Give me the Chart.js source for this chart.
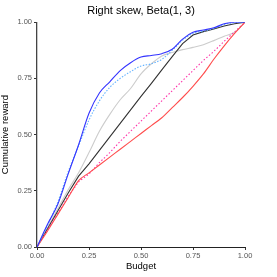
<!DOCTYPE html>
<html>
<head>
<meta charset="utf-8">
<script src="https://cdn.jsdelivr.net/npm/chart.js@4"></script>
<style>
  html, body { margin: 0; padding: 0; background: #fff; }
  #wrap { width: 277px; height: 277px; }
</style>
</head>
<body>
<div id="wrap"><canvas id="mycanvas" width="277" height="277"></canvas></div>
<script>
// Budget grid (x values)
var budget = [0, 0.05, 0.10, 0.15, 0.20, 0.25, 0.30, 0.35, 0.40, 0.45, 0.50,
              0.55, 0.60, 0.65, 0.70, 0.75, 0.80, 0.85, 0.90, 0.95, 1.00];
// Cumulative reward per curve
var blueVals  = [0, 0.10, 0.19, 0.325, 0.455, 0.595, 0.685, 0.735, 0.785, 0.82, 0.845,
                 0.852, 0.86, 0.88, 0.925, 0.955, 0.965, 0.975, 0.993, 1.0, 1.0];
var skyVals   = [0, 0.095, 0.20, 0.335, 0.45, 0.565, 0.65, 0.71, 0.75, 0.78, 0.805,
                 0.815, 0.835, 0.875, 0.92, 0.95, 0.96, 0.972, 0.99, 0.998, 1.0];
var greyVals  = [0, 0.085, 0.17, 0.255, 0.33, 0.42, 0.515, 0.59, 0.655, 0.705, 0.77,
                 0.815, 0.85, 0.865, 0.878, 0.888, 0.90, 0.918, 0.938, 0.955, 1.0];
var blackVals = [0, 0.08, 0.16, 0.24, 0.315, 0.37, 0.43, 0.49, 0.55, 0.61, 0.67,
                 0.728, 0.788, 0.847, 0.905, 0.943, 0.958, 0.97, 0.983, 0.993, 1.0];
var pinkVals  = [0, 0.075, 0.15, 0.225, 0.29, 0.325, 0.375, 0.42, 0.47, 0.515, 0.56,
                 0.605, 0.65, 0.695, 0.74, 0.785, 0.83, 0.87, 0.915, 0.957, 1.0];
var redVals   = [0, 0.07, 0.145, 0.22, 0.295, 0.33, 0.365, 0.40, 0.435, 0.47, 0.505,
                 0.54, 0.575, 0.62, 0.665, 0.715, 0.77, 0.835, 0.895, 0.95, 1.0];
var tickVals = [0, 0.25, 0.5, 0.75, 1];

var FONT = "'Liberation Sans', Arial, sans-serif";

function pts(vals)
{
  var out = [];
  for (var i = 0; i < budget.length; i++)
  {
    out.push({x: budget[i], y: vals[i]});
  }
  return out;
}

function series(vals, color, dash, tension)
{
  return {
    data: pts(vals),
    borderColor: color,
    backgroundColor: color,
    borderWidth: 1.1,
    borderDash: dash,
    pointRadius: 0,
    tension: tension,
    cubicInterpolationMode: tension ? 'monotone' : 'default',
    fill: false
  };
}

// first dataset ends up on top
var datasets = [
  series(blueVals,  '#3333ff', [], 0.4),
  series(skyVals,   '#66b3ff', [1.5, 1.5], 0.4),
  series(redVals,   '#ff4d4d', [], 0.4),
  series(pinkVals,  '#ff33aa', [1.5, 2], 0),
  series(blackVals, '#333333', [], 0),
  series(greyVals,  '#cccccc', [], 0.4)
];

var ctx = document.getElementById('mycanvas');
var chart = new Chart(ctx,
{
  type: 'line',
  data: { datasets: datasets },
  options: {
    responsive: false,
    animation: false,
    layout: { padding: { top: 0, right: 32, bottom: 5, left: 0 } },
    plugins: {
      legend: { display: false },
      tooltip: { enabled: false },
      title: {
        display: true,
        fullSize: false,
        text: 'Right skew, Beta(1, 3)',
        color: '#000',
        font: { family: FONT, size: 11, weight: 'normal' },
        padding: { top: 4, bottom: 5 }
      }
    },
    scales: {
      x: {
        type: 'linear',
        min: 0,
        max: 1,
        afterBuildTicks: function(scale) { scale.ticks = tickVals.map(function(v) { return {value: v}; }); },
        afterFit: function(scale) { scale.height = 25; },
        border: { display: true, color: '#222', width: 1 },
        grid: { drawOnChartArea: false, drawTicks: true, tickLength: 3, color: '#333' },
        ticks: {
          color: '#555',
          padding: 1,
          maxRotation: 0,
          font: { family: FONT, size: 7.5 },
          callback: function(v) { return v.toFixed(2); }
        },
        title: {
          display: true,
          text: 'Budget',
          color: '#000',
          padding: { top: 0, bottom: 0 },
          font: { family: FONT, size: 9.5 }
        }
      },
      y: {
        type: 'linear',
        min: 0,
        max: 1,
        afterBuildTicks: function(scale) { scale.ticks = tickVals.map(function(v) { return {value: v}; }); },
        afterFit: function(scale) { scale.width = 37; },
        border: { display: true, color: '#444', width: 1.3 },
        grid: { drawOnChartArea: false, drawTicks: true, tickLength: 3, color: '#333' },
        ticks: {
          color: '#555',
          padding: 2,
          font: { family: FONT, size: 7.5 },
          callback: function(v) { return v.toFixed(2); }
        },
        title: {
          display: true,
          text: 'Cumulative reward',
          color: '#000',
          padding: { top: 0, bottom: 1 },
          font: { family: FONT, size: 9.5 }
        }
      }
    }
  }
});
</script>
</body>
</html>
